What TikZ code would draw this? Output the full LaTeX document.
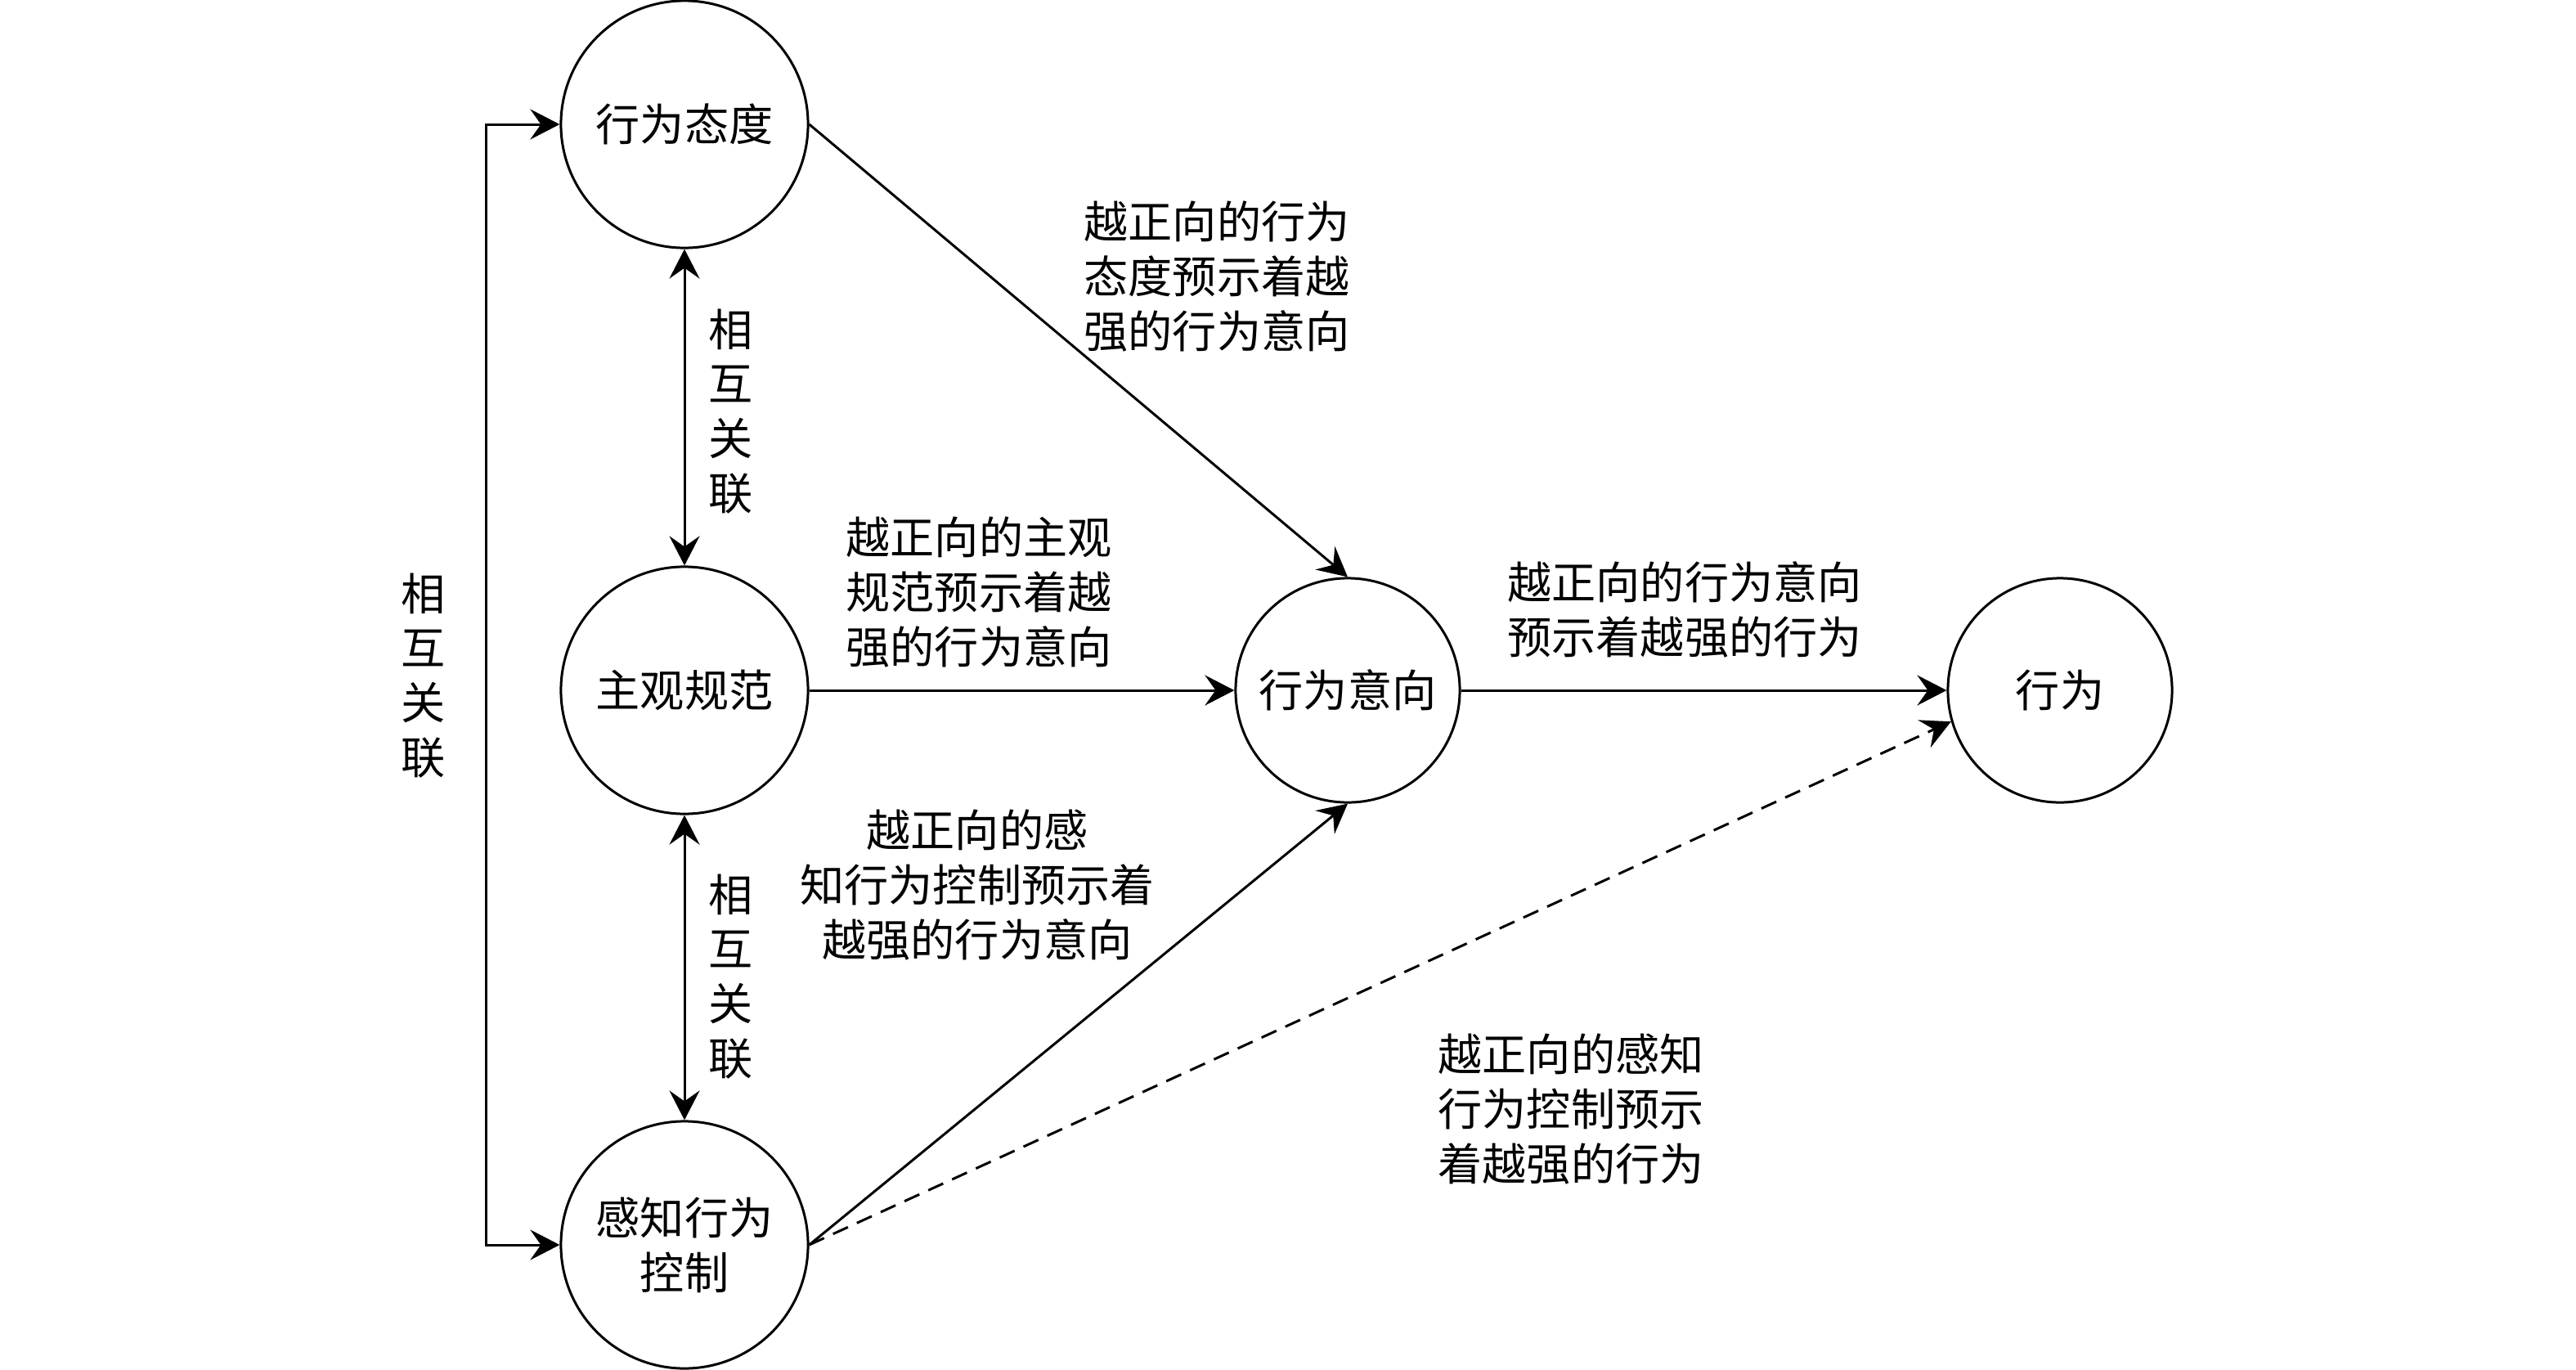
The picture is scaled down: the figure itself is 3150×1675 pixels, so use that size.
\documentclass[tikz,border=0pt]{standalone}
\usepackage{fontspec}
\setmainfont{Noto Sans CJK SC}
\usetikzlibrary{arrows.meta}
\tikzset{
  tipA/.tip={Stealth[length=0.36cm,width=0.37cm,inset=0.13cm]},
}
\begin{document}
\begin{tikzpicture}[x=0.01cm,y=-0.01cm,
  every node/.style={font=\fontsize{15.4pt}{19pt}\selectfont},
  bigcirc/.style={draw, circle, line width=0.03cm, inner sep=0pt, minimum size=3.02cm, align=center},
  smallcirc/.style={bigcirc, minimum size=2.74cm},
  lbl/.style={align=center, inner sep=0pt},
  conn/.style={line width=0.03cm, -tipA},
  dconn/.style={conn, dash pattern=on 0.2cm off 0.12cm},
  bothconn/.style={line width=0.03cm, tipA-tipA}
]
\useasboundingbox (0,0) rectangle (3150,1675);

\node[bigcirc] (A) at (837,152) {行为态度};
\node[bigcirc] (B) at (837,844) {主观规范};
\node[bigcirc] (C) at (837,1522) {感知行为\\控制};
\node[smallcirc] (I) at (1648,844) {行为意向};
\node[smallcirc] (D) at (2519,844) {行为};

\coordinate (L1) at (594,152);
\coordinate (L2) at (594,1522);

\draw[bothconn] (A.west) -- (L1) -- (L2) -- (C.west);
\draw[bothconn] (A.south) -- (B.north);
\draw[bothconn] (B.south) -- (C.north);
\draw[conn] (A.east) -- (I.north);
\draw[conn] (B.east) -- (I.west);
\draw[conn] (C.east) -- (I.south);
\draw[conn] (I.east) -- (D.west);
\draw[dconn] (C.east) -- (D.196);

\node[lbl] (r0) at (518,826) {相\\互\\关\\联};
\node[lbl] (r1) at (894,503) {相\\互\\关\\联};
\node[lbl] (r2) at (894,1194) {相\\互\\关\\联};

\node[lbl] (t1) at (1488,338) {越正向的行为\\态度预示着越\\强的行为意向};
\node[lbl] (t2) at (1197,724) {越正向的主观\\规范预示着越\\强的行为意向};
\node[lbl] (t3) at (1195,1082) {越正向的感\\知行为控制预示着\\越强的行为意向};
\node[lbl] (t4) at (2060,745) {越正向的行为意向\\预示着越强的行为};
\node[lbl] (t5) at (1921,1356) {越正向的感知\\行为控制预示\\着越强的行为};
\end{tikzpicture}
\end{document}
